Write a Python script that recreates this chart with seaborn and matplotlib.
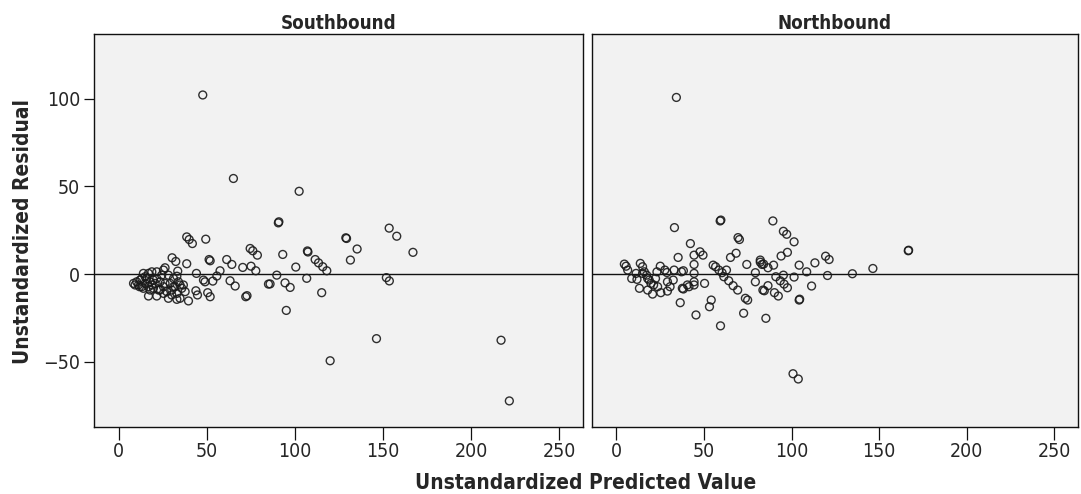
import matplotlib
matplotlib.use("Agg")
import matplotlib.pyplot as plt
import numpy as np
import pandas as pd
import seaborn as sns

panels = ["Southbound", "Northbound"]
x_ticks = [0, 50, 100, 150, 200, 250]
y_ticks = [-50, 0, 50, 100]
x_label = "Unstandardized Predicted Value"
y_label = "Unstandardized Residual"

south_pred = [
    47.7, 65.1, 102.4, 90.6, 90.9, 93.1, 100.5, 107.1, 107.4, 111.5, 113.4, 115.8, 118.1,
    128.9, 129.3, 135.3, 131.5, 153.5, 157.8, 167.0, 151.9, 153.6, 115.2, 106.7, 94.4,
    97.3, 89.7, 85.9, 95.1, 120.0, 146.3, 217.0, 221.7,
    38.6, 40.0, 41.8, 49.4, 30.3, 32.4, 38.6, 26.3, 25.4, 33.5, 44.1, 51.3, 51.9, 61.3,
    64.2, 57.5, 55.7, 53.4, 48.1, 49.0, 43.8, 44.7, 39.6, 51.9, 50.5, 63.2, 66.1, 72.1,
    72.8, 70.4, 75.1, 77.8, 74.6, 76.1, 78.7, 85.0,
    8.4, 10.2, 11.2, 12.1, 13.1, 14.0, 15.0, 15.9, 16.9, 17.8, 18.8, 19.7, 20.7, 21.6,
    22.6, 23.5, 24.4, 25.4, 26.3, 27.3, 28.2, 29.2, 30.1, 31.1, 32.0, 33.0, 33.9, 34.8,
    35.8, 36.7, 37.7, 16.9, 21.6, 33.0, 9.3, 11.8, 14.0, 17.8, 19.7, 15.0, 13.1, 23.5,
    25.4, 30.1, 28.2, 16.9, 21.6, 33.0, 34.8, 31.1, 18.8,
]
south_resid = [
    102.1, 54.5, 47.2, 29.2, 29.8, 11.2, 4.0, 13.2, 12.6, 8.3, 6.4, 4.2, 1.9,
    20.7, 20.3, 14.3, 8.0, 26.2, 21.6, 12.4, -2.0, -3.9, -10.6, -2.4, -5.0,
    -7.6, -0.6, -5.6, -20.7, -49.4, -36.8, -37.7, -72.3,
    21.2, 19.7, 17.4, 19.9, 9.3, 7.2, 5.9, 3.6, 2.3, 1.7, 0.4, 8.3, 7.6, 8.3,
    5.5, 1.9, -1.1, -4.0, -3.4, -4.4, -9.5, -11.9, -15.3, -12.9, -10.6, -3.8, -6.8, -12.9,
    -12.3, 3.8, 4.5, 1.9, 14.6, 13.3, 10.8, -5.7,
    -5.3, -4.4, -6.2, -3.4, -7.2, 0.4, -5.3, -2.5, -7.2, -4.4, 1.3, -8.1, -5.3, -2.5,
    -9.1, -4.4, -0.6, -7.2, -5.3, -10.0, -13.8, -5.3, -9.1, -2.5, -7.2, -11.0, -4.4, -13.8,
    -8.1, -6.2, -10.0, -12.5, -12.5, -14.4, -6.2, -7.2, -8.1, -9.1, -3.4, -1.5, -2.5, -9.1,
    -11.0, -11.9, -0.6, 0.4, 1.3, -1.2, -6.2, -7.2, -6.2,
]

north_pred = [
    34.2, 33.1, 42.2, 35.2, 44.3, 47.7, 49.4, 44.3, 44.3, 44.3, 44.3, 50.3, 41.4, 38.2,
    36.4, 45.4, 54.1, 53.1, 59.2, 59.6, 59.4, 69.4, 70.2, 68.3, 65.1, 74.4, 82.1, 83.1,
    79.3, 79.3, 83.6, 72.6, 73.6, 74.9, 69.2, 66.6, 64.1, 62.8, 60.3, 58.5, 56.6, 55.2, 61.3,
    32.9, 32.4, 30.6, 29.1, 28.8, 27.6, 25.0, 23.1, 22.3, 21.2, 20.6, 17.8, 18.7, 17.2,
    15.9, 14.9, 13.6, 13.1, 11.7, 8.7, 6.4, 5.5, 4.5, 29.1, 25.3, 37.1, 38.2, 37.6, 40.5,
    11.2, 14.9, 17.8, 19.7, 23.5,
    89.3, 95.3, 97.2, 101.4, 97.6, 94.0, 82.1, 84.0, 86.5, 89.7, 104.3, 108.6, 113.3,
    119.4, 121.4, 120.5, 134.7, 146.4, 166.6, 166.8, 91.0, 95.3, 101.4, 93.5, 95.7, 97.6,
    86.5, 84.4, 90.2, 92.4, 111.4, 104.3, 104.6, 85.3, 100.8, 103.8,
]
north_resid = [
    100.7, 26.5, 17.4, 9.5, 10.8, 12.7, 10.8, 5.5, 0.4, -4.4, -6.2, -5.3, -7.2, -8.5,
    -16.3, -23.3, -14.8, -18.6, 30.3, 30.8, -29.5, 20.8, 19.7, 11.9, 9.5, 5.5, 6.8, 5.5,
    0.8, -4.4, -9.1, -22.3, -13.8, -14.8, -9.1, -6.6, -3.8, 2.3, 0.8, 2.3, 4.2, 5.1, -1.5,
    2.3, -3.4, -7.2, -4.4, 0.9, 2.3, 4.5, 1.3, -2.5, -6.2, -11.4, -9.1, -3.4, -0.6,
    1.3, 4.2, 6.1, -8.1, -3.0, -2.5, 2.3, 4.5, 5.7, -9.7, -10.6, 1.3, 1.9, -8.1, -6.2,
    0.4, 0.4, -2.5, -5.3, -7.2,
    30.3, 24.4, 22.7, 18.4, 12.4, 10.3, 8.0, 5.7, 3.6, 5.1, 5.1, 1.3, 6.4,
    10.2, 8.3, -0.8, 0.2, 3.2, 13.3, 13.6, -1.5, -0.6, -1.7, -3.8, -5.7, -7.8,
    -6.6, -9.5, -10.6, -12.5, -6.8, -14.8, -14.3, -25.2, -56.8, -59.8,
]

df = pd.concat([
    pd.DataFrame({"pred": south_pred, "resid": south_resid, "dir": panels[0]}),
    pd.DataFrame({"pred": north_pred, "resid": north_resid, "dir": panels[1]}),
], ignore_index=True)

sns.set_theme(style="white")
plt.rcParams["font.family"] = ["DejaVu Sans"]
plt.rcParams["font.stretch"] = "condensed"

fig = plt.figure(figsize=(10.81, 4.94), dpi=100)
ax1 = fig.add_axes([0.087, 0.1362, 0.4523, 0.7944])
ax2 = fig.add_axes([0.5476, 0.1362, 0.4496, 0.7944])

for ax, name in zip([ax1, ax2], panels):
    ax.set_facecolor("#f2f2f2")
    sub = df[df["dir"] == name]
    ax.axhline(0, color="#111111", lw=1.0, zorder=1)
    sns.scatterplot(data=sub, x="pred", y="resid", ax=ax, marker="o", s=32,
                    facecolor="none", edgecolor="#1a1a1a", linewidth=1.0,
                    alpha=0.9, zorder=3, legend=False)
    ax.set_xlim(-14, 263.5)
    ax.set_ylim(-87, 136.7)
    ax.set_xticks(x_ticks)
    ax.set_yticks(y_ticks)
    ax.set_xlabel("")
    ax.set_ylabel("")
    ax.set_title(name, fontweight="bold", fontsize=13.5, pad=4)
    for sp in ax.spines.values():
        sp.set_color("#111111")
        sp.set_linewidth(1.0)
    ax.tick_params(axis="x", which="both", direction="out", length=9, width=0.9,
                   color="#111111", labelsize=14, pad=2, bottom=True)
    ax.tick_params(axis="y", which="both", direction="out", length=7, width=0.9,
                   color="#111111", labelsize=14, pad=3, left=True)

ax1.set_yticklabels(["\u221250", "0", "50", "100"])
ax2.tick_params(axis="y", left=False, labelleft=False)

fig.text(0.542, 0.022, x_label, ha="center", va="center", fontsize=15, fontweight="bold")
fig.text(0.021, 0.532, y_label, ha="center", va="center", rotation=90,
         fontsize=15, fontweight="bold")

fig.savefig("out.png", dpi=100)
